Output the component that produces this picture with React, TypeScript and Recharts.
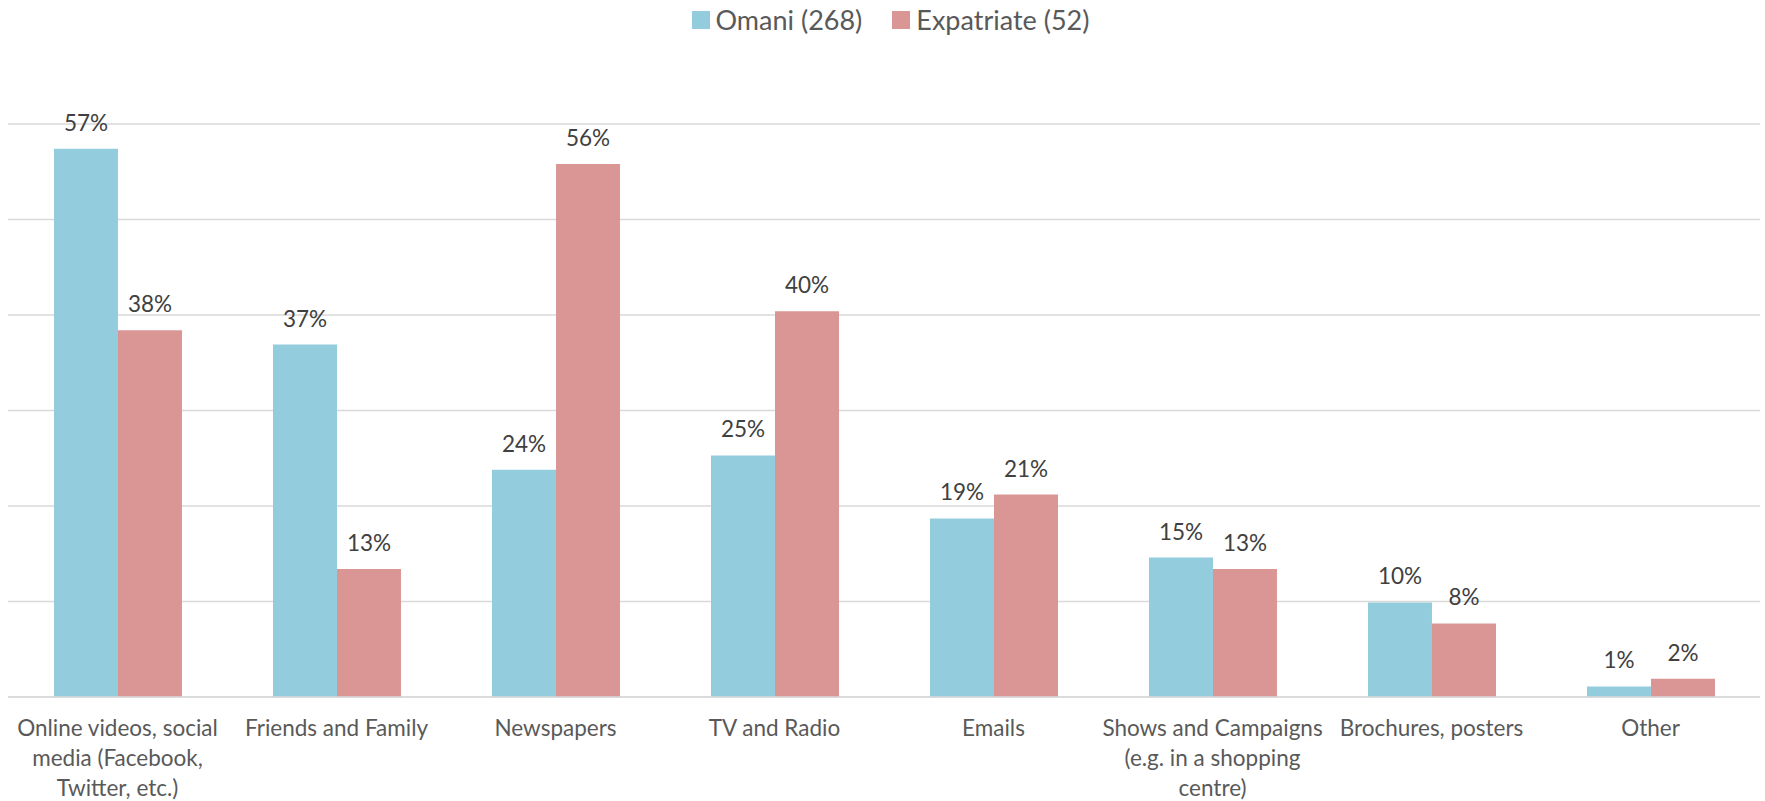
import { Bar, BarChart, CartesianGrid, LabelList, XAxis, YAxis } from "recharts";

// Information sources, % of respondents
const categories = [
  "Online videos, social\nmedia (Facebook,\nTwitter, etc.)",
  "Friends and Family",
  "Newspapers",
  "TV and Radio",
  "Emails",
  "Shows and Campaigns\n(e.g. in a shopping\ncentre)",
  "Brochures, posters",
  "Other",
];
const omani = [57.4, 36.9, 23.8, 25.3, 18.7, 14.6, 9.9, 1.1];
const expatriate = [38.4, 13.4, 55.8, 40.4, 21.2, 13.4, 7.7, 1.9];

const seriesNames = ["Omani (268)", "Expatriate (52)"];
const colors = ["#93CDDD", "#D99694"];
const yTicks = [0, 10, 20, 30, 40, 50, 60];

const data = categories.map((name, i) => ({
  name,
  omani: omani[i],
  expatriate: expatriate[i],
}));

const FONT = "Lato, 'Open Sans', sans-serif";

const CategoryTick = (props: any) => {
  const { x, y, payload } = props;
  const lines = String(payload.value).split("\n");
  return (
    <g transform={`translate(${x},${y})`}>
      {lines.map((line, i) => (
        <text
          key={i}
          x={0}
          y={31 + i * 30}
          textAnchor="middle"
          fill="#595959"
          fontSize={22.5}
          fontFamily={FONT}
        >
          {line}
        </text>
      ))}
    </g>
  );
};

const fmt = (v: any) => `${Math.round(Number(v))}%`;

export default function App() {
  return (
    <div style={{ position: "absolute", left: 0, top: 0, width: 1765, height: 801, background: "#fff" }}>
      <div
        style={{
          position: "absolute",
          top: 3,
          left: 0,
          width: 1765,
          display: "flex",
          justifyContent: "center",
          gap: 30,
          fontFamily: FONT,
          fontSize: 27,
          color: "#595959",
          paddingLeft: 8,
        }}
      >
        {seriesNames.map((s, i) => (
          <div key={s} style={{ display: "flex", alignItems: "center" }}>
            <span
              style={{
                display: "inline-block",
                width: 18,
                height: 18,
                background: colors[i],
                marginRight: 6,
              }}
            />
            {s}
          </div>
        ))}
      </div>
      <BarChart
        width={1765}
        height={801}
        data={data}
        margin={{ top: 124, right: 5, bottom: 4, left: 8 }}
        barGap={0}
        barCategoryGap="21%"
      >
        <CartesianGrid vertical={false} stroke="#d9d9d9" strokeWidth={1.5} />
        <XAxis
          dataKey="name"
          interval={0}
          tickLine={false}
          axisLine={{ stroke: "#d9d9d9", strokeWidth: 1.5 }}
          tick={<CategoryTick />}
          height={100}
        />
        <YAxis hide domain={[0, 60]} ticks={yTicks} />
        <Bar dataKey="omani" name={seriesNames[0]} fill={colors[0]} isAnimationActive={false}>
          <LabelList
            dataKey="omani"
            position="top"
            offset={18}
            formatter={fmt}
            fill="#404040"
            fontSize={22.5}
            fontFamily={FONT}
          />
        </Bar>
        <Bar dataKey="expatriate" name={seriesNames[1]} fill={colors[1]} isAnimationActive={false}>
          <LabelList
            dataKey="expatriate"
            position="top"
            offset={18}
            formatter={fmt}
            fill="#404040"
            fontSize={22.5}
            fontFamily={FONT}
          />
        </Bar>
      </BarChart>
    </div>
  );
}
